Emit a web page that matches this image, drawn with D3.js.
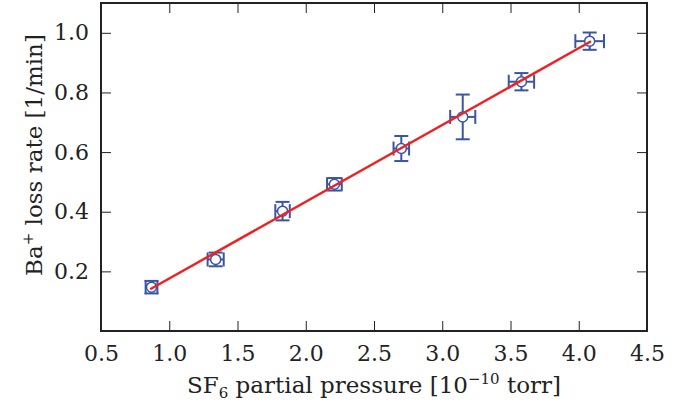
<!DOCTYPE html>
<html>
<head>
<meta charset="utf-8">
<script src="https://cdn.jsdelivr.net/npm/d3@7"></script>
<style>
  html, body { margin: 0; padding: 0; background: #fff; }
  svg text { font-family: "DejaVu Serif", "Liberation Serif", serif; fill: #222; }
</style>
</head>
<body>
<div id="chart"></div>
<script>
// data
const pressure = [0.87, 1.34, 1.83, 2.21, 2.70, 3.15, 3.58, 4.08]
const pressureErr = [0.043, 0.059, 0.053, 0.054, 0.057, 0.092, 0.093, 0.105]
const lossRate = [0.147, 0.240, 0.402, 0.492, 0.612, 0.718, 0.836, 0.972]
const lossRateErr = [0.021, 0.023, 0.031, 0.021, 0.042, 0.075, 0.029, 0.029]
const fitX = [0.86, 4.09]
const fitSlope = 0.2575
const fitIntercept = -0.0815
const xTicks = [0.5, 1.0, 1.5, 2.0, 2.5, 3.0, 3.5, 4.0, 4.5]
const yTicks = [0.2, 0.4, 0.6, 0.8, 1.0]

const width = 684
const height = 405
const margin = { top: 3, right: 37, bottom: 74, left: 101 }
const blue = '#3a55a5'
const red = '#ee2222'
const capSize = 7
const tickFont = 22
const labelFont = 23
const smallFont = 15

const points = pressure.map((x, i) => ({
  x, y: lossRate[i], xe: pressureErr[i], ye: lossRateErr[i]
}))

const svg = d3.select('#chart')
  .append('svg')
  .attr('width', width)
  .attr('height', height)

const x = d3.scaleLinear()
  .domain([0.5, 4.5])
  .range([margin.left, width - margin.right])
const y = d3.scaleLinear()
  .domain([0, 1.1])
  .range([height - margin.bottom, margin.top])

// error bars
const eb = svg.append('g')
  .attr('stroke', blue)
  .attr('stroke-width', 2)
  .attr('fill', 'none')

points.forEach(d => {
  const cx = x(d.x), cy = y(d.y)
  const x0 = x(d.x - d.xe), x1 = x(d.x + d.xe)
  const y0 = y(d.y - d.ye), y1 = y(d.y + d.ye)
  eb.append('line').attr('x1', x0).attr('x2', x1).attr('y1', cy).attr('y2', cy)
  eb.append('line').attr('x1', cx).attr('x2', cx).attr('y1', y0).attr('y2', y1)
  // caps
  eb.append('line').attr('x1', x0).attr('x2', x0).attr('y1', cy - capSize).attr('y2', cy + capSize)
  eb.append('line').attr('x1', x1).attr('x2', x1).attr('y1', cy - capSize).attr('y2', cy + capSize)
  eb.append('line').attr('x1', cx - capSize).attr('x2', cx + capSize).attr('y1', y0).attr('y2', y0)
  eb.append('line').attr('x1', cx - capSize).attr('x2', cx + capSize).attr('y1', y1).attr('y2', y1)
})

// markers
svg.append('g')
  .selectAll('circle')
  .data(points)
  .join('circle')
  .attr('cx', d => x(d.x))
  .attr('cy', d => y(d.y))
  .attr('r', 5)
  .attr('fill', '#fff')
  .attr('stroke', blue)
  .attr('stroke-width', 1.5)

// fit line
const line = d3.line()
  .x(d => x(d))
  .y(d => y(fitSlope * d + fitIntercept))
svg.append('path')
  .datum(fitX)
  .attr('d', line)
  .attr('fill', 'none')
  .attr('stroke', red)
  .attr('stroke-width', 2.5)

// axes: ticks pointing inward on all four sides
const tickLen = 10
const fmt = d3.format('.1f')

const xBottom = svg.append('g')
  .attr('transform', `translate(0, ${y(0)})`)
  .call(d3.axisBottom(x).tickValues(xTicks).tickSize(-tickLen).tickPadding(14).tickFormat(fmt))
const xTop = svg.append('g')
  .attr('transform', `translate(0, ${y(1.1)})`)
  .call(d3.axisTop(x).tickValues(xTicks).tickSize(-tickLen).tickFormat(''))
const yLeft = svg.append('g')
  .attr('transform', `translate(${x(0.5)}, 0)`)
  .call(d3.axisLeft(y).tickValues(yTicks).tickSize(-tickLen).tickPadding(12).tickFormat(fmt))
const yRight = svg.append('g')
  .attr('transform', `translate(${x(4.5)}, 0)`)
  .call(d3.axisRight(y).tickValues(yTicks).tickSize(-tickLen).tickFormat(''))

;[xBottom, xTop, yLeft, yRight].forEach(g => {
  g.select('.domain').remove()
  g.selectAll('.tick line').attr('stroke', '#222').attr('stroke-width', 1)
  g.selectAll('.tick text')
    .attr('font-size', tickFont)
    .attr('font-family', '"DejaVu Serif", serif')
    .attr('fill', '#222')
})

// frame
svg.append('rect')
  .attr('x', x(0.5))
  .attr('y', y(1.1))
  .attr('width', x(4.5) - x(0.5))
  .attr('height', y(0) - y(1.1))
  .attr('fill', 'none')
  .attr('stroke', '#222')
  .attr('stroke-width', 2)

// axis labels
const xl = svg.append('text')
  .attr('x', (x(0.5) + x(4.5)) / 2)
  .attr('y', 393)
  .attr('text-anchor', 'middle')
  .attr('font-size', labelFont)
xl.append('tspan').text('SF')
xl.append('tspan').attr('font-size', smallFont).attr('dy', 5).text('6')
xl.append('tspan').attr('dy', -5).text(' partial pressure [10')
xl.append('tspan').attr('font-size', smallFont).attr('dy', -9).text('\u221210')
xl.append('tspan').attr('dy', 9).text(' torr]')

const yl = svg.append('text')
  .attr('transform', `translate(42, ${(y(0) + y(1.1)) / 2 - 12}) rotate(-90)`)
  .attr('text-anchor', 'middle')
  .attr('font-size', labelFont)
yl.append('tspan').text('Ba')
yl.append('tspan').attr('font-size', smallFont).attr('dy', -9).text('+')
yl.append('tspan').attr('dy', 9).text(' loss rate [1/min]')
</script>
</body>
</html>
